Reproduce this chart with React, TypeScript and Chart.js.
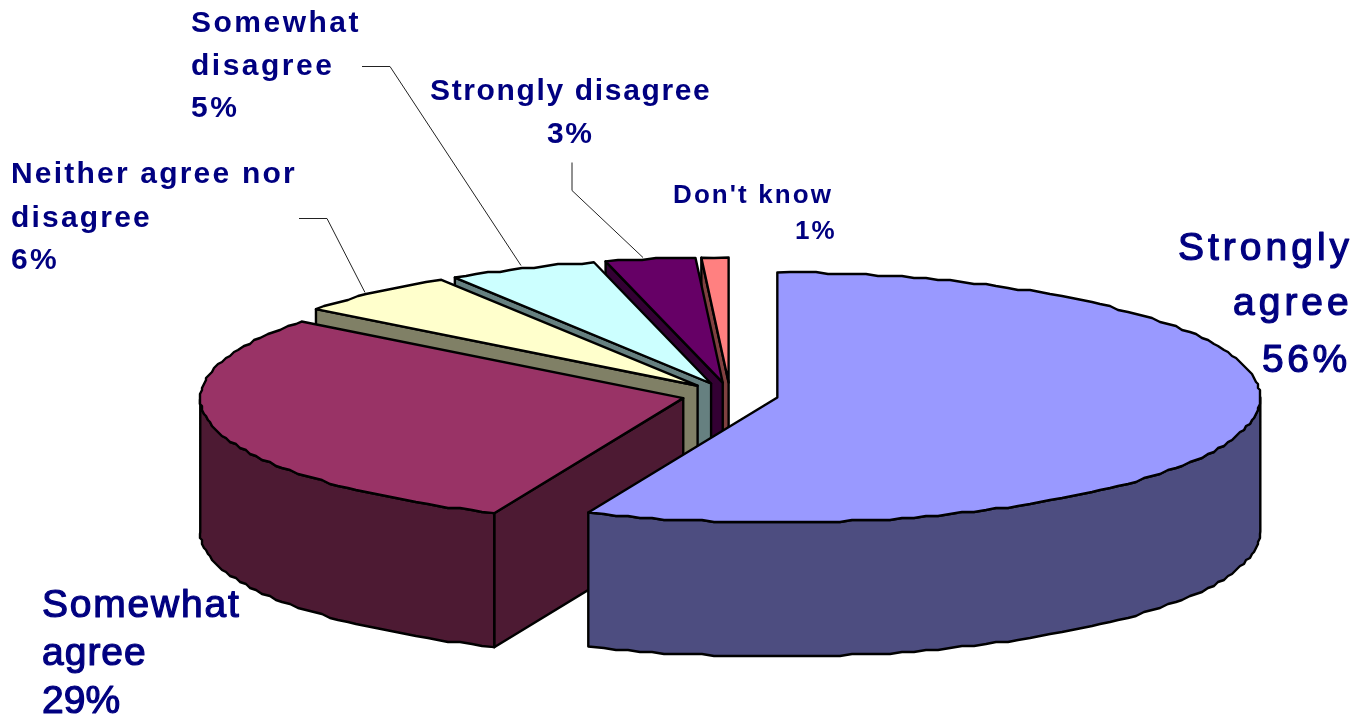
import React, { useEffect, useRef } from "react";
import { Chart, registerables } from "chart.js";

Chart.register(...registerables);

const categories = ["Strongly agree", "Somewhat agree", "Neither agree nor disagree", "Somewhat disagree", "Strongly disagree", "Don't know"];
const shares = [56.4, 29.1, 5.6, 5.0, 3.0, 0.9];
const topColors = ["#9999FF", "#993366", "#FFFFCC", "#CCFFFF", "#660066", "#FF8080"];
const wallColors = ["#4D4D80", "#4D1A33", "#808066", "#668080", "#330033", "#804040"];

type Line = { t: string; x: number; y: number; sp?: number };
type Lab = { size: number; weight: string; spacing: number; bolden: number; lines: Line[] };
const labelLayout: Lab[] = [
  { size: 39, weight: "normal", spacing: 4, bolden: 1.2, lines: [
    { t: "Strongly", x: 1178, y: 260 }, { t: "agree", x: 1233, y: 315 }, { t: "56%", x: 1262, y: 372, sp: 3.5 } ] },
  { size: 39, weight: "normal", spacing: 1.8, bolden: 1.2, lines: [
    { t: "Somewhat", x: 42, y: 617 }, { t: "agree", x: 42, y: 665, sp: 1 }, { t: "29%", x: 42, y: 713, sp: 0 } ] },
  { size: 30, weight: "bold", spacing: 2.2, bolden: 0, lines: [
    { t: "Neither agree nor", x: 11, y: 183 }, { t: "disagree", x: 11, y: 227 }, { t: "6%", x: 11, y: 269 } ] },
  { size: 30, weight: "bold", spacing: 2.5, bolden: 0, lines: [
    { t: "Somewhat", x: 191, y: 32 }, { t: "disagree", x: 191, y: 75 }, { t: "5%", x: 191, y: 117 } ] },
  { size: 30, weight: "bold", spacing: 1.65, bolden: 0, lines: [
    { t: "Strongly disagree", x: 430, y: 100 }, { t: "3%", x: 547, y: 143 } ] },
  { size: 26, weight: "bold", spacing: 2.1, bolden: 0, lines: [
    { t: "Don't know", x: 673, y: 203 }, { t: "1%", x: 795, y: 239 } ] },
];
const leaderLines: number[][][] = [
  [[299, 218], [327, 218], [365, 292]],
  [[362, 66], [390, 66], [521, 265]],
  [[572, 162], [572, 190], [643, 257]],
];

const CX = 730, CY = 395, RX = 483, RY = 125, DEPTH = 134, EXPLODE = 0.1;

const piePlugin = {
  id: "pie3d",
  beforeDatasetDraw(chart: any) {
    const ctx: CanvasRenderingContext2D = chart.ctx;
    const arcs: any[] = chart.getDatasetMeta(0).data;
    const norm = (a: number) => { while (a < -Math.PI / 2 - 1e-6) a += 2 * Math.PI; return a; };
    const order = arcs.map((_, i) => i).reverse();
    for (const i of order) {
      const arc = arcs[i];
      const a0 = norm(arc.startAngle);
      const a1 = a0 + (arc.endAngle - arc.startAngle);
      const mid = (a0 + a1) / 2;
      const cx = CX + Math.cos(mid) * EXPLODE * RX;
      const cy = CY + Math.sin(mid) * EXPLODE * RY;
      const pt = (a: number): [number, number] => [cx + Math.cos(a) * RX, cy + Math.sin(a) * RY];
      const rim = (s: number, e: number) => {
        const pts: [number, number][] = [pt(s)];
        const step = (1.5 * Math.PI) / 180;
        for (let a = s + step; a < e - step / 2; a += step) {
          const p = pt(a);
          pts.push([Math.round(p[0] / 2) * 2, Math.round(p[1] / 2) * 2]);
        }
        pts.push(pt(e));
        return pts;
      };
      ctx.lineJoin = "round";
      const poly = (pts: [number, number][], fill: string) => {
        ctx.beginPath();
        pts.forEach((p, k) => (k ? ctx.lineTo(p[0], p[1]) : ctx.moveTo(p[0], p[1])));
        ctx.closePath();
        ctx.fillStyle = fill;
        ctx.fill();
        ctx.lineWidth = 2.4;
        ctx.strokeStyle = "#000";
        ctx.stroke();
      };
      const cut = (a: number) => {
        const p = pt(a);
        poly([[cx, cy], p, [p[0], p[1] + DEPTH], [cx, cy + DEPTH]], wallColors[i]);
      };
      if (Math.cos(a0) < -1e-6) cut(a0);
      if (Math.cos(a1) > 1e-6) cut(a1);
      const w0 = Math.max(a0, 0), w1 = Math.min(a1, Math.PI);
      if (w1 > w0) {
        const r = rim(w0, w1);
        poly([...r, ...r.slice().reverse().map((p) => [p[0], p[1] + DEPTH] as [number, number])], wallColors[i]);
      }
      // top face: the library's own arc, squashed into the ellipse
      ctx.save();
      ctx.translate(cx, cy);
      ctx.scale(RX / arc.outerRadius, RY / arc.outerRadius);
      ctx.translate(-arc.x, -arc.y);
      arc.draw(ctx);
      ctx.restore();
      // outline of the top face
      poly([[cx, cy], ...rim(a0, a1)], topColors[i]);
    }
    return false;
  },
  afterDraw(chart: any) {
    const ctx: CanvasRenderingContext2D = chart.ctx;
    ctx.save();
    ctx.strokeStyle = "#222";
    ctx.lineWidth = 1;
    for (const l of leaderLines) {
      ctx.beginPath();
      l.forEach((p, k) => (k ? ctx.lineTo(p[0], p[1] + 0.5) : ctx.moveTo(p[0], p[1] + 0.5)));
      ctx.stroke();
    }
    ctx.textBaseline = "alphabetic";
    ctx.textAlign = "left";
    ctx.fillStyle = "#000080";
    ctx.strokeStyle = "#000080";
    for (const lab of labelLayout) {
      ctx.font = `${lab.weight} ${lab.size}px "Liberation Sans", Arial, sans-serif`;
      for (const ln of lab.lines) {
        (ctx as any).letterSpacing = `${ln.sp ?? lab.spacing}px`;
        ctx.fillText(ln.t, ln.x, ln.y);
        if (lab.bolden) {
          ctx.lineWidth = lab.bolden;
          ctx.strokeText(ln.t, ln.x, ln.y);
        }
      }
    }
    ctx.restore();
  },
};

export default function App() {
  const ref = useRef<HTMLCanvasElement>(null);
  useEffect(() => {
    const chart = new Chart(ref.current as HTMLCanvasElement, {
      type: "pie",
      data: {
        labels: categories,
        datasets: [{ data: shares, backgroundColor: topColors, borderWidth: 0 }],
      },
      options: {
        animation: false,
        responsive: false,
        plugins: { legend: { display: false }, tooltip: { enabled: false } },
      },
      plugins: [piePlugin],
    } as any);
    return () => chart.destroy();
  }, []);
  return (
    <div style={{ position: "fixed", left: 0, top: 0, width: 1354, height: 715, background: "#fff" }}>
      <canvas ref={ref} width={1354} height={715} style={{ display: "block" }} />
    </div>
  );
}
